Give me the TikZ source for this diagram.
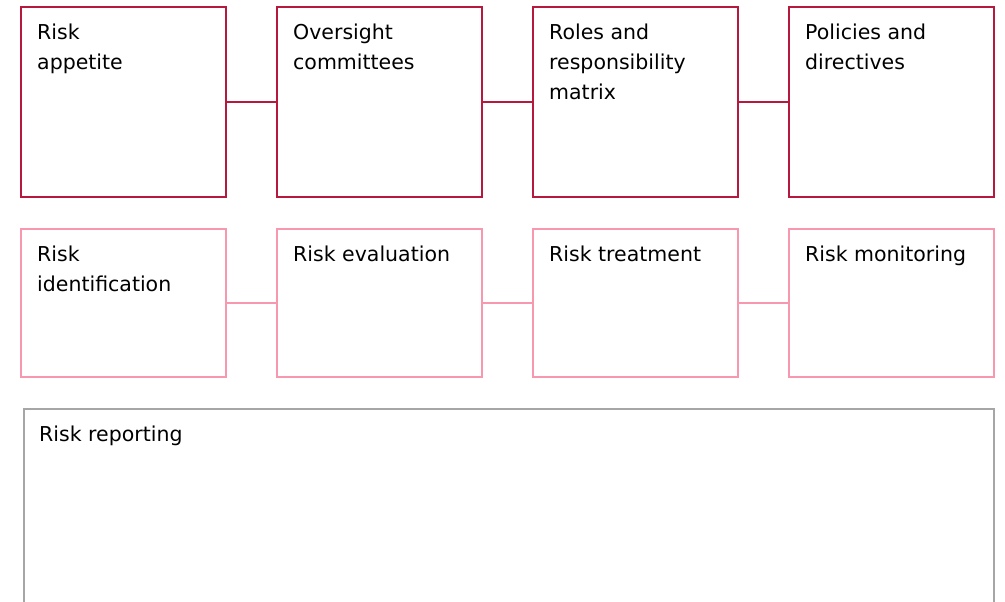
\documentclass[tikz,border=0pt]{standalone}
\usepackage{fontspec}
\setmainfont{DejaVu Sans}
\usepackage{xcolor}
\definecolor{riskred}{RGB}{183,24,62}
\definecolor{riskpink}{RGB}{247,152,174}
\definecolor{riskgrey}{RGB}{166,166,166}

\begin{document}
\begin{tikzpicture}[line join=miter,
                redbox/.style={shape=rectangle, draw=riskred, line width=1.6pt, inner sep=0pt, minimum width=205pt, minimum height=190pt, anchor=north west},
                pinkbox/.style={shape=rectangle, draw=riskpink, line width=1.6pt, inner sep=0pt, minimum width=205pt, minimum height=148pt, anchor=north west},
                greybox/.style={shape=rectangle, draw=riskgrey, line width=1.6pt, inner sep=0pt, minimum width=970pt, minimum height=260pt, anchor=north west},
                boxtext/.style={anchor=north west, align=left, inner sep=0pt, xshift=17pt, yshift=-18pt, font=\fontsize{20.5}{30}\selectfont}]
            % Canvas
            \useasboundingbox (0pt, 0pt) rectangle (1005pt, -602pt);
            \clip (0pt, 0pt) rectangle (1005pt, -602pt);
            % Governance row
        \foreach \x/\name/\txt in {
            20pt/appetite/{Risk\\appetite},
            276pt/oversight/{Oversight\\committees},
            532pt/roles/{Roles and\\responsibility\\matrix},
            788pt/policies/{Policies and\\directives}} {
            \node[redbox, label={[boxtext]north west:\txt}] (\name) at (\x, -6pt) {};
        }
        % Process row
        \foreach \x/\name/\txt in {
            20pt/identification/{Risk\\identification},
            276pt/evaluation/{Risk evaluation},
            532pt/treatment/{Risk treatment},
            788pt/monitoring/{Risk monitoring}} {
            \node[pinkbox, label={[boxtext]north west:\txt}] (\name) at (\x, -228pt) {};
        }
        % Links
        \foreach \a/\b in {appetite/oversight, oversight/roles, roles/policies} {
            \draw[riskred, line width=1.6pt] (\a.east) -- (\b.west);
        }
        \foreach \a/\b in {identification/evaluation, evaluation/treatment, treatment/monitoring} {
            \draw[riskpink, line width=1.6pt] (\a.east) -- (\b.west);
        }

        % Reporting
        \node[greybox, label={[boxtext, xshift=-1pt]north west:Risk reporting}] (reporting) at (23pt, -408pt) {};
            \end{tikzpicture}
\end{document}
